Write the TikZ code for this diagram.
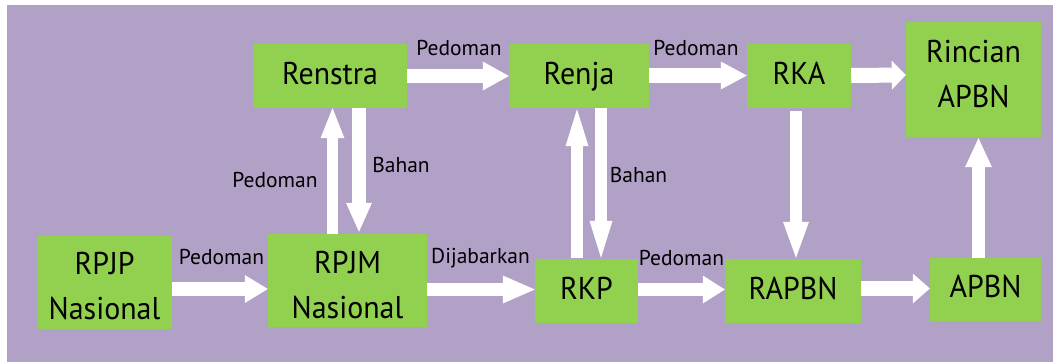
\documentclass[tikz,border=0pt]{standalone}
\usepackage{fontspec}
\setmainfont{PT Sans}
\newfontfamily\boxfamily[FakeStretch=0.95]{PT Sans}
\usetikzlibrary{arrows.meta}
\definecolor{lavender}{HTML}{B2A1C7}
\definecolor{leaf}{HTML}{92D050}
% invisible rule of given height and depth
\newcommand\vstrut[2]{\rule[-#2]{0pt}{\dimexpr#1+#2\relax}}
\tikzset{
  box/.style={fill=leaf, inner sep=0pt, text=black, align=center,
    font=\boxfamily\fontsize{31.5}{45}\selectfont},
  onebox/.style={box, text height=24pt, text depth=8pt},
  lbl/.style={anchor=base, inner sep=0pt, text=black,
    font=\fontsize{21.5}{26}\selectfont},
  flow/.style n args={3}{draw=white, line width=#1,
    -{Triangle[length=#2, width=#3, line width=0pt, fill=white]}}
}
\begin{document}
\begin{tikzpicture}[x=1pt, y=-1pt]
\useasboundingbox (0,0) rectangle (1053,362);
\fill[lavender] (7,5) rectangle (1053,362);

% planning documents
\node[box, minimum width=135pt, minimum height=93pt] (rpjp) at (104.5,282.5)
  {\vstrut{30pt}{0pt}RPJP\\Nasional};
\node[box, minimum width=159pt, minimum height=93pt] (rpjm) at (347.5,280.5)
  {\vstrut{31pt}{0pt}RPJM\\Nasional};
\node[onebox, minimum width=154pt, minimum height=64pt] (renstra) at (330,76) {Renstra};
\node[onebox, minimum width=140pt, minimum height=64pt] (renja) at (579,76) {Renja};
\node[onebox, minimum width=104pt, minimum height=64pt] (rka) at (799,76) {RKA};
\node[box, minimum width=135pt, minimum height=115pt] (rincian) at (973.5,79.5)
  {\vstrut{25pt}{0pt}Rincian\\APBN\vstrut{0pt}{15pt}};
\node[onebox, minimum width=103pt, minimum height=64pt] (rkp) at (586.5,291) {RKP};
\node[onebox, minimum width=136pt, minimum height=64pt] (rapbn) at (793,291) {RAPBN};
\node[onebox, minimum width=111pt, minimum height=63pt] (apbn) at (985.5,289.5) {APBN};

% flows between documents
\draw[flow={14pt}{23pt}{28pt}] ([yshift=-6.5pt]rpjp.east) -- ([yshift=-8.5pt]rpjm.west);
\draw[flow={13pt}{32pt}{28pt}] ([yshift=-9pt]rpjm.east) -- ([yshift=1.5pt]rkp.west);
\draw[flow={13pt}{22pt}{28pt}] ([yshift=1.5pt]rkp.east) -- ([yshift=1.5pt]rapbn.west);
\draw[flow={15pt}{17pt}{30pt}] ([yshift=2.5pt]rapbn.east) -- ([yshift=1pt]apbn.west);
\draw[flow={13pt}{29pt}{27pt}] ([xshift=-7pt]apbn.north) -- ([xshift=5pt,yshift=-1pt]rincian.south);
\draw[flow={12pt}{36pt}{26pt}] ([xshift=-3pt,yshift=-3pt]rka.south) -- ([xshift=3pt,yshift=1pt]rapbn.north);
\draw[flow={14pt}{26pt}{29pt}] (renstra.east) -- (renja.west);
\draw[flow={15pt}{26pt}{28pt}] ([yshift=0.5pt]renja.east) -- ([yshift=0.5pt]rka.west);
\draw[flow={15pt}{14pt}{29pt}] ([yshift=0.5pt]rka.east) -- ([yshift=4.5pt]rincian.west);
\draw[flow={11pt}{30pt}{24pt}] ([xshift=-15pt]rpjm.north) -- ([xshift=2.5pt]renstra.south);
\draw[flow={14pt}{29pt}{26pt}] ([xshift=29pt]renstra.south) -- ([xshift=11.5pt,yshift=2pt]rpjm.north);
\draw[flow={12pt}{37pt}{23pt}] ([xshift=-9.5pt,yshift=1pt]rkp.north) -- ([xshift=-2pt,yshift=-1pt]renja.south);
\draw[flow={12pt}{37pt}{23pt}] ([xshift=22pt]renja.south) -- ([xshift=14.5pt,yshift=1pt]rkp.north);

% flow labels
\node[lbl] (l1) at (221.5,264) {Pedoman};
\node[lbl] (l2) at (480.5,263) {Dijabarkan};
\node[lbl] (l3) at (681.5,265) {Pedoman};
\node[lbl] (l4) at (459,55) {Pedoman};
\node[lbl] (l5) at (696,55) {Pedoman};
\node[lbl] (l6) at (275,187) {Pedoman};
\node[lbl] (l7) at (401,172) {Bahan};
\node[lbl] (l8) at (638.5,182) {Bahan};
\end{tikzpicture}
\end{document}
